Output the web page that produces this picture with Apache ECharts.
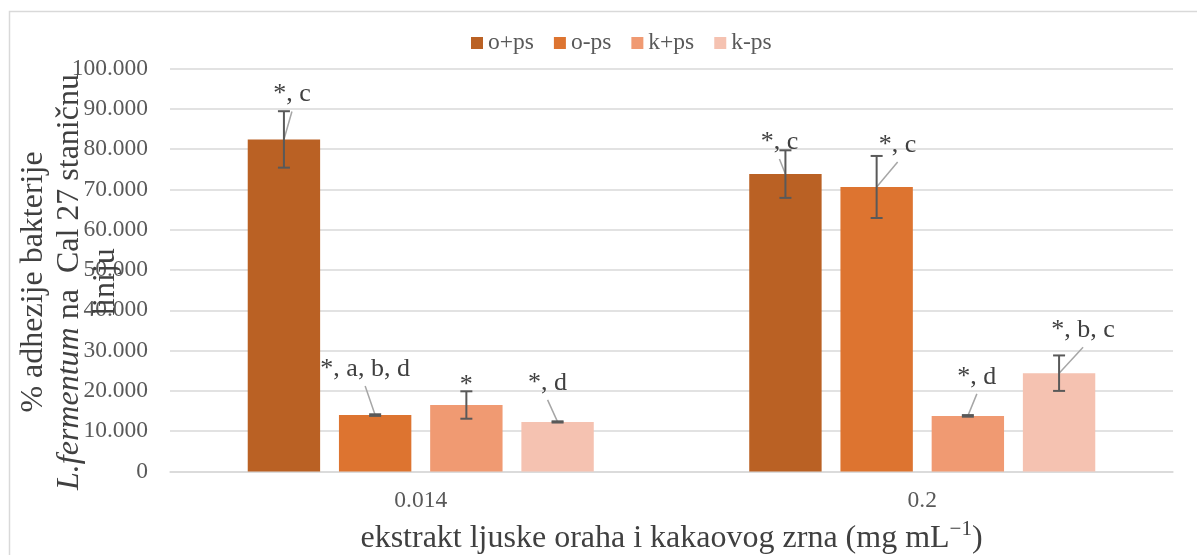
<!DOCTYPE html>
<html>
<head>
<meta charset="utf-8">
<script src="https://cdn.jsdelivr.net/npm/echarts@6/dist/echarts.min.js"></script>
<style>
html,body{margin:0;padding:0;background:#fff;}
#c{width:1197px;height:555px;}
</style>
</head>
<body>
<div id="c"></div>
<script>
// ---- data ----
const categories = ['0.014', '0.2'];
const seriesNames = ['o+ps', 'o-ps', 'k+ps', 'k-ps'];
const oPlusPs = [82.4, 73.8];
const oMinusPs = [14.0, 70.6];
const kPlusPs = [16.5, 13.8];
const kMinusPs = [12.3, 24.4];
const oPlusPsErr = [7.0, 5.9];
const oMinusPsErr = [0.2, 7.7];
const kPlusPsErr = [3.4, 0.2];
const kMinusPsErr = [0.15, 4.4];
const oPlusPsLabels = ['*, c', '*, c'];
const oMinusPsLabels = ['*, a, b, d', '*, c'];
const kPlusPsLabels = ['*', '*, d'];
const kMinusPsLabels = ['*, d', '*, b, c'];
const yTicks = [0, 10, 20, 30, 40, 50, 60, 70, 80, 90, 100];

// ---- styling / layout ----
const colors = ['#BA6124', '#DD7430', '#F09A72', '#F5C2B1'];
const values = [oPlusPs, oMinusPs, kPlusPs, kMinusPs];
const errors = [oPlusPsErr, oMinusPsErr, kPlusPsErr, kMinusPsErr];
const labels = [oPlusPsLabels, oMinusPsLabels, kPlusPsLabels, kMinusPsLabels];
// label centre offsets (dx, dy) in px relative to the bar's top-centre
const labelOffsets = [
  [[8, -45], [-6, -32]],
  [[-10, -46], [21, -42]],
  [[0, -20], [9, -39]],
  [[-10, -39], [24, -43]]
];
const showLeader = [
  [true, true],
  [true, true],
  [false, true],
  [true, true]
];
const LEADER_GAP = 17;
const BAR_GAP = 0.26, CAT_GAP = 0.31;
const FONT = '"Liberation Serif", "Times New Roman", serif';
const chart = echarts.init(document.getElementById('c'));

const barSeries = seriesNames.map((name, si) => ({
  name: name,
  type: 'bar',
  data: values[si],
  barGap: (BAR_GAP * 100) + '%',
  barCategoryGap: (CAT_GAP * 100) + '%',
  itemStyle: { color: colors[si] },
  emphasis: { disabled: true },
  label: {
    show: true,
    position: 'top',
    distance: 0,
    fontFamily: FONT,
    fontSize: 26,
    color: '#404040',
    formatter: p => labels[si][p.dataIndex]
  },
  labelLayout: p => ({
    x: p.rect.x + p.rect.width / 2 + labelOffsets[si][p.dataIndex][0],
    y: p.rect.y + labelOffsets[si][p.dataIndex][1],
    align: 'center',
    verticalAlign: 'middle'
  }),
  z: 2
}));

const errData = [];
seriesNames.forEach((n, si) => {
  categories.forEach((c, ci) => {
    errData.push([ci, values[si][ci], errors[si][ci], si]);
  });
});

const errSeries = {
  type: 'custom',
  name: 'err',
  data: errData,
  z: 5,
  silent: true,
  renderItem: function (params, api) {
    const ci = api.value(0), v = api.value(1), e = api.value(2), si = api.value(3);
    const band = api.size([1, 0])[0];
    const n = seriesNames.length;
    const w = band * (1 - CAT_GAP) / (n + (n - 1) * BAR_GAP);
    const total = n * w + (n - 1) * BAR_GAP * w;
    const center = api.coord([ci, v]);
    const x = center[0] - total / 2 + w / 2 + si * w * (1 + BAR_GAP);
    const vy = center[1];
    const top = api.coord([ci, v + e])[1];
    const bot = api.coord([ci, v - e])[1];
    const cap = 6;
    const st = { stroke: '#595959', lineWidth: 2 };
    const children = [];
    if (showLeader[si][ci]) {
      const off = labelOffsets[si][ci];
      children.push({
        type: 'line',
        shape: { x1: x + off[0], y1: vy + off[1] + LEADER_GAP, x2: x, y2: vy },
        style: { stroke: '#A6A6A6', lineWidth: 1.5 }
      });
    }
    children.push(
      { type: 'line', shape: { x1: x, y1: top, x2: x, y2: bot }, style: st },
      { type: 'line', shape: { x1: x - cap, y1: top, x2: x + cap, y2: top }, style: st },
      { type: 'line', shape: { x1: x - cap, y1: bot, x2: x + cap, y2: bot }, style: st }
    );
    return { type: 'group', children: children };
  }
};

chart.setOption({
  animation: false,
  backgroundColor: '#fff',
  textStyle: { fontFamily: FONT },
  grid: { left: 170, right: 24, top: 68.5, bottom: 83.5, containLabel: false, outerBoundsMode: 'none' },
  legend: {
    data: seriesNames,
    top: 26,
    left: 466,
    itemWidth: 12,
    itemHeight: 12,
    itemGap: 20,
    icon: 'rect',
    textStyle: { fontFamily: FONT, fontSize: 23.5, color: '#595959' }
  },
  xAxis: {
    type: 'category',
    data: categories,
    axisLine: { lineStyle: { color: '#D9D9D9', width: 1.5 } },
    axisTick: { show: false },
    axisLabel: { fontFamily: FONT, fontSize: 23.5, color: '#595959', margin: 17 },
    name: '{n|ekstrakt ljuske oraha i kakaovog zrna (mg mL}{s|−1}{n|)}',
    nameLocation: 'middle',
    nameGap: 47,
    nameTextStyle: {
      rich: {
        n: { fontFamily: FONT, fontSize: 32, color: '#404040', lineHeight: 36, verticalAlign: 'bottom' },
        s: { fontFamily: FONT, fontSize: 21, color: '#404040', lineHeight: 36, verticalAlign: 'top', padding: [0, 0, 14, 0] }
      }
    }
  },
  yAxis: {
    type: 'value',
    min: 0,
    max: 100,
    interval: 10,
    axisLine: { show: false },
    axisTick: { show: false },
    splitLine: { lineStyle: { color: '#D9D9D9', width: 1.5 } },
    axisLabel: {
      fontFamily: FONT, fontSize: 23.5, color: '#595959', margin: 22,
      formatter: v => yTicks.indexOf(v) >= 0 ? (v === 0 ? '0' : v.toFixed(3)) : ''
    }
  },
  graphic: [
    { type: 'rect', shape: { x: 9.5, y: 11.5, width: 1200, height: 600 }, style: { fill: 'none', stroke: '#D9D9D9', lineWidth: 1.5 }, z: -10, silent: true },
    {
      type: 'text',
      x: 70, y: 282,
      rotation: Math.PI / 2,
      z: 10,
      silent: true,
      style: {
        text: '{n|% adhezije bakterije}\n{i|L.fermentum}{n| na  Cal 27 staničnu}\n{n|liniju}',
        align: 'center',
        verticalAlign: 'middle',
        rich: {
          n: { fontFamily: FONT, fontSize: 32, fill: '#404040', lineHeight: 36 },
          i: { fontFamily: FONT, fontSize: 32, fill: '#404040', lineHeight: 36, fontStyle: 'italic' }
        }
      }
    }
  ],
  series: barSeries.concat([errSeries])
});
</script>
</body>
</html>
